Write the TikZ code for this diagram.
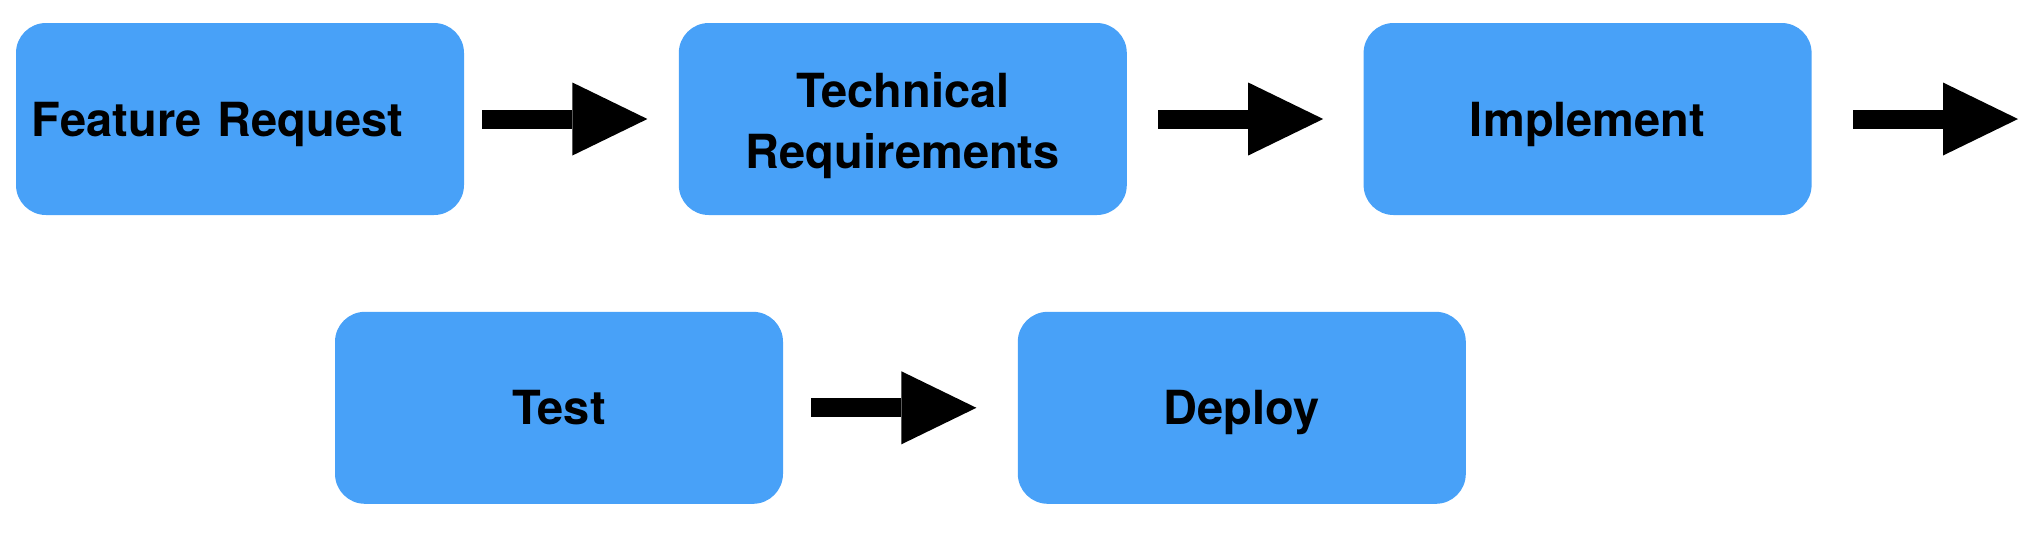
\documentclass[tikz,border=0pt]{standalone}
\usepackage{fontspec}
\setsansfont{TeX Gyre Heros}
\usetikzlibrary{arrows.meta, positioning}
\definecolor{stepBlue}{RGB}{72, 161, 248}

\begin{document}
\begin{tikzpicture}[
    % --- Box Styles ---
    stepbox/.style={
        rectangle,
        rounded corners=15pt,
        fill=stepBlue,
        minimum width=224pt,
        minimum height=96pt,
        inner xsep=8pt, inner ysep=0pt,
        text width=208pt,         % Text wrapping width
        align=center,
        text height=17pt, text depth=0pt,
        font=\sffamily\bfseries\fontsize{23.5}{30.5}\selectfont
    },
    % --- Block Arrow Style ---
    flowarrow/.style={
        -{Triangle[width=36.5pt, length=37.5pt, line width=0pt]},
        line width=9.5pt, draw=black
    }
]
    % fixed frame of the page
    \useasboundingbox (0,0) rectangle (1018pt,-266pt);

    % --- TOP ROW ---
    \node (step1) [stepbox, align=left] at (120pt,-59.5pt) {Feature Request};
    \node (step2) [stepbox, right=107pt of step1, text depth=28.5pt] {Technical\\Requirements};
    \node (step3) [stepbox, right=118pt of step2] {Implement};
    \coordinate [right=103pt of step3.east] (next);

    % --- BOTTOM ROW ---
    \node (step4) [stepbox, below=48pt of step1, xshift=159.5pt] {Test};
    \node (step5) [stepbox, right=117pt of step4] {Deploy};

    % --- Arrows ---
    \draw [flowarrow, shorten <=9pt, shorten >=15.5pt] (step1) -- (step2);
    \draw [flowarrow, shorten <=15.5pt, shorten >=20pt] (step2) -- (step3);
    \draw [flowarrow, shorten <=20.5pt] (step3) -- (next); % leads on to the next row
    \draw [flowarrow, shorten <=14pt, shorten >=20.5pt] (step4) -- (step5);

\end{tikzpicture}
\end{document}
